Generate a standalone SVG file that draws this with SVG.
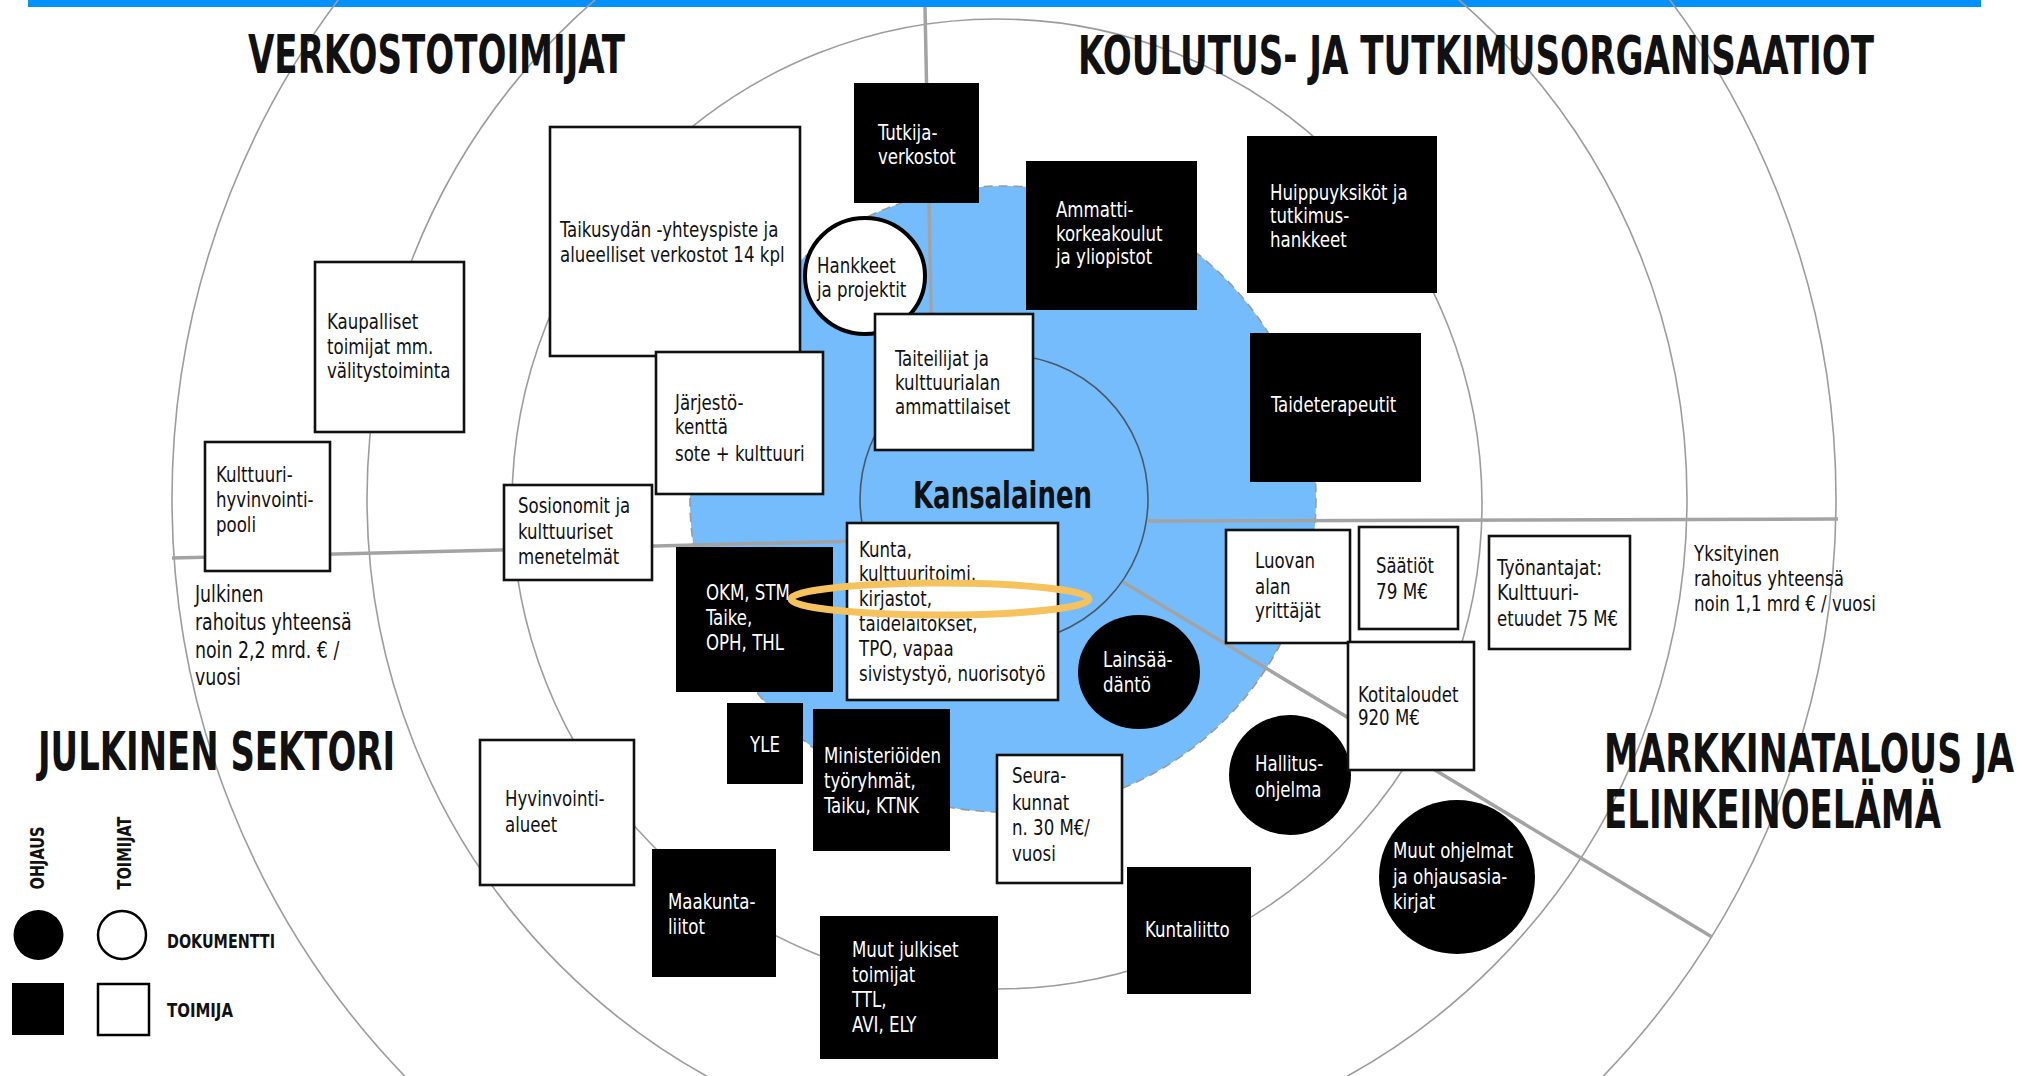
<svg xmlns="http://www.w3.org/2000/svg" width="2022" height="1076" viewBox="0 0 2022 1076">
<style>
text{font-family:"Liberation Sans Narrow","DejaVu Sans Condensed","Liberation Sans",sans-serif;font-stretch:condensed;font-size:22px;fill:#111}
.w{fill:#fff}
.ttl{font-size:53px;font-weight:bold}
.leg{font-size:20px;font-weight:bold}
.ring{fill:none;stroke:#9c9c9c;stroke-width:1.6}
.div{stroke:#a3a3a3;stroke-width:3.5;fill:none}
.wb{fill:#fff;stroke:#111;stroke-width:2.6}
.bb{fill:#000}
</style>
<rect x="28" y="0" width="1953" height="7" fill="#0091ff"/>
<g id="rings">
<circle class="ring" cx="1004" cy="499" r="832"/>
<circle class="ring" cx="1027" cy="499" r="660"/>
<circle class="ring" cx="997" cy="504" r="485"/>
<circle cx="1003" cy="499" r="313" fill="#74bcfb" stroke="#9a9a9a" stroke-width="1.6" stroke-dasharray="9 6"/>
</g>
<g id="connectors">
<path class="div" d="M925 7 L932 356"/>
<path class="div" d="M172 558 L860 541"/>
<path class="div" d="M1148 521 L1838 519"/>
<path class="div" d="M1123 582 L1712 937"/>
</g>
<circle id="kansalainen-ring" cx="1004" cy="499" r="144" fill="none" stroke="#4a5866" stroke-width="1.6"/>
<text x="913" y="508" textLength="179" lengthAdjust="spacingAndGlyphs" style="font-size:38px;font-weight:bold">Kansalainen</text>

<g id="titles">
<text class="ttl" x="248" y="73" textLength="377" lengthAdjust="spacingAndGlyphs">VERKOSTOTOIMIJAT</text>
<text class="ttl" x="1078" y="74" textLength="796" lengthAdjust="spacingAndGlyphs">KOULUTUS- JA TUTKIMUSORGANISAATIOT</text>
<text class="ttl" x="38" y="770" textLength="357" lengthAdjust="spacingAndGlyphs">JULKINEN SEKTORI</text>
<text class="ttl" x="1604" y="772" textLength="410" lengthAdjust="spacingAndGlyphs">MARKKINATALOUS JA</text>
<text class="ttl" x="1604" y="828" textLength="337" lengthAdjust="spacingAndGlyphs">ELINKEINOELÄMÄ</text>
</g>

<g id="taikusydan"><rect class="wb" x="550" y="127" width="250" height="229"/>
<g transform="matrix(0.84 0 0 1 89.6 0)"><text x="560" y="237">Taikusydän -yhteyspiste ja</text><text x="560" y="262">alueelliset verkostot 14 kpl</text></g></g>
<g id="tutkijaverkostot"><rect class="bb" x="854" y="83" width="125" height="120"/>
<g transform="matrix(0.84 0 0 1 140.48 0)"><text class="w" x="878" y="140">Tutkija-</text><text class="w" x="878" y="164">verkostot</text></g></g>
<g id="hankkeet"><ellipse cx="865" cy="276" rx="60" ry="58" fill="#fff" stroke="#000" stroke-width="4"/>
<g transform="matrix(0.84 0 0 1 130.72 0)"><text x="817" y="273">Hankkeet</text><text x="817" y="297">ja projektit</text></g></g>
<g id="ammattikorkeakoulut"><rect class="bb" x="1026" y="161" width="171" height="149"/>
<g transform="matrix(0.84 0 0 1 168.96 0)"><text class="w" x="1056" y="217">Ammatti-</text><text class="w" x="1056" y="241">korkeakoulut</text><text class="w" x="1056" y="264">ja yliopistot</text></g></g>
<g id="huippuyksikot"><rect class="bb" x="1247" y="136" width="190" height="157"/>
<g transform="matrix(0.84 0 0 1 203.2 0)"><text class="w" x="1270" y="200">Huippuyksiköt ja</text><text class="w" x="1270" y="223">tutkimus-</text><text class="w" x="1270" y="247">hankkeet</text></g></g>
<g id="taideterapeutit"><rect class="bb" x="1250" y="333" width="171" height="149"/>
<g transform="matrix(0.84 0 0 1 203.36 0)"><text class="w" x="1271" y="412">Taideterapeutit</text></g></g>
<g id="taiteilijat"><rect class="wb" x="875" y="314" width="158" height="136"/>
<g transform="matrix(0.84 0 0 1 143.2 0)"><text x="895" y="366">Taiteilijat ja</text><text x="895" y="390">kulttuurialan</text><text x="895" y="414">ammattilaiset</text></g></g>
<g id="jarjestokentta"><rect class="wb" x="656" y="352" width="167" height="142"/>
<g transform="matrix(0.84 0 0 1 108 0)"><text x="675" y="410">Järjestö-</text><text x="675" y="434">kenttä</text><text x="675" y="461">sote + kulttuuri</text></g></g>
<g id="kaupalliset"><rect class="wb" x="315" y="262" width="149" height="170"/>
<g transform="matrix(0.84 0 0 1 52.32 0)"><text x="327" y="329">Kaupalliset</text><text x="327" y="354">toimijat mm.</text><text x="327" y="378">välitystoiminta</text></g></g>
<g id="kulttuurihyvinvointipooli"><rect class="wb" x="205" y="442" width="125" height="129"/>
<g transform="matrix(0.84 0 0 1 34.56 0)"><text x="216" y="482">Kulttuuri-</text><text x="216" y="507">hyvinvointi-</text><text x="216" y="532">pooli</text></g></g>
<g id="sosionomit"><rect class="wb" x="504" y="485" width="148" height="95"/>
<g transform="matrix(0.84 0 0 1 82.88 0)"><text x="518" y="513">Sosionomit ja</text><text x="518" y="539">kulttuuriset</text><text x="518" y="564">menetelmät</text></g></g>
<g id="julkinen-rahoitus" transform="matrix(0.84 0 0 1 31.2 0)">
<text x="195" y="602" style="font-size:23px">Julkinen</text><text x="195" y="630" style="font-size:23px">rahoitus yhteensä</text><text x="195" y="658" style="font-size:23px">noin 2,2 mrd. € /</text><text x="195" y="685" style="font-size:23px">vuosi</text></g>
<g id="okm"><rect class="bb" x="676" y="547" width="157" height="145"/>
<g transform="matrix(0.84 0 0 1 112.96 0)"><text class="w" x="706" y="600">OKM, STM</text><text class="w" x="706" y="625">Taike,</text><text class="w" x="706" y="650">OPH, THL</text></g></g>
<g id="kunta"><rect class="wb" x="847" y="523" width="211" height="177"/>
<g transform="matrix(0.84 0 0 1 137.44 0)"><text x="859" y="557">Kunta,</text><text x="859" y="581">kulttuuritoimi,</text><text x="859" y="606">kirjastot,</text><text x="859" y="631">taidelaitokset,</text><text x="859" y="656">TPO, vapaa</text><text x="859" y="681">sivistystyö, nuorisotyö</text></g></g>
<g id="lainsaadanto"><ellipse cx="1139" cy="672" rx="61" ry="57" fill="#000"/>
<g transform="matrix(0.84 0 0 1 176.48 0)"><text class="w" x="1103" y="667">Lainsää-</text><text class="w" x="1103" y="692">däntö</text></g></g>
<g id="yle"><rect class="bb" x="727" y="703" width="76" height="81"/>
<g transform="matrix(0.84 0 0 1 122.4 0)"><text class="w" x="765" y="752" text-anchor="middle">YLE</text></g></g>
<g id="ministeriot"><rect class="bb" x="813" y="709" width="137" height="142"/>
<g transform="matrix(0.84 0 0 1 131.84 0)"><text class="w" x="824" y="763">Ministeriöiden</text><text class="w" x="824" y="788">työryhmät,</text><text class="w" x="824" y="813">Taiku, KTNK</text></g></g>
<g id="seurakunnat"><rect class="wb" x="997" y="755" width="125" height="128"/>
<g transform="matrix(0.84 0 0 1 161.92 0)"><text x="1012" y="783">Seura-</text><text x="1012" y="810">kunnat</text><text x="1012" y="835">n. 30 M€/</text><text x="1012" y="861">vuosi</text></g></g>
<g id="hallitusohjelma"><ellipse cx="1290" cy="775" rx="61" ry="60" fill="#000"/>
<g transform="matrix(0.84 0 0 1 200.8 0)"><text class="w" x="1255" y="771">Hallitus-</text><text class="w" x="1255" y="797">ohjelma</text></g></g>
<g id="maakuntaliitot"><rect class="bb" x="652" y="849" width="124" height="128"/>
<g transform="matrix(0.84 0 0 1 106.88 0)"><text class="w" x="668" y="909">Maakunta-</text><text class="w" x="668" y="934">liitot</text></g></g>
<g id="muutjulkiset"><rect class="bb" x="820" y="916" width="178" height="143"/>
<g transform="matrix(0.84 0 0 1 136.32 0)"><text class="w" x="852" y="957">Muut julkiset</text><text class="w" x="852" y="982">toimijat</text><text class="w" x="852" y="1007">TTL,</text><text class="w" x="852" y="1032">AVI, ELY</text></g></g>
<g id="kuntaliitto"><rect class="bb" x="1127" y="867" width="124" height="127"/>
<g transform="matrix(0.84 0 0 1 183.2 0)"><text class="w" x="1145" y="937">Kuntaliitto</text></g></g>
<g id="hyvinvointialueet"><rect class="wb" x="480" y="740" width="154" height="145"/>
<g transform="matrix(0.84 0 0 1 80.8 0)"><text x="505" y="806">Hyvinvointi-</text><text x="505" y="832">alueet</text></g></g>
<g id="luovanala"><rect class="wb" x="1226" y="530" width="124" height="113"/>
<g transform="matrix(0.84 0 0 1 200.8 0)"><text x="1255" y="568">Luovan</text><text x="1255" y="594">alan</text><text x="1255" y="618">yrittäjät</text></g></g>
<g id="saatiot"><rect class="wb" x="1359" y="527" width="99" height="102"/>
<text x="1376" y="573" textLength="58" lengthAdjust="spacingAndGlyphs">Säätiöt</text><text x="1376" y="599" textLength="52" lengthAdjust="spacingAndGlyphs">79 M€</text></g>
<g id="tyonantajat"><rect class="wb" x="1489" y="536" width="141" height="113"/>
<text x="1497" y="575" textLength="105" lengthAdjust="spacingAndGlyphs">Työnantajat:</text><text x="1497" y="600" textLength="82" lengthAdjust="spacingAndGlyphs">Kulttuuri-</text><text x="1497" y="626" textLength="121" lengthAdjust="spacingAndGlyphs">etuudet 75 M€</text></g>
<g id="kotitaloudet"><rect class="wb" x="1348" y="642" width="126" height="128"/>
<g transform="matrix(0.84 0 0 1 217.28 0)"><text x="1358" y="702">Kotitaloudet</text><text x="1358" y="725">920 M€</text></g></g>
<g id="muutohjelmat"><ellipse cx="1457" cy="877" rx="78" ry="77" fill="#000"/>
<g transform="matrix(0.84 0 0 1 222.88 0)"><text class="w" x="1393" y="858">Muut ohjelmat</text><text class="w" x="1393" y="884">ja ohjausasia-</text><text class="w" x="1393" y="909">kirjat</text></g></g>
<g id="yksityinen-rahoitus" transform="matrix(0.84 0 0 1 271.04 0)">
<text x="1694" y="561">Yksityinen</text><text x="1694" y="586">rahoitus yhteensä</text><text x="1694" y="611">noin 1,1 mrd € / vuosi</text></g>

<ellipse id="highlight" cx="940" cy="599" rx="149" ry="16" fill="none" stroke="#f6c25e" stroke-width="7"/>

<g id="legend">
<text class="leg" transform="translate(44,858) rotate(-90)" text-anchor="middle" textLength="63" lengthAdjust="spacingAndGlyphs">OHJAUS</text>
<text class="leg" transform="translate(131,853) rotate(-90)" text-anchor="middle" textLength="73" lengthAdjust="spacingAndGlyphs">TOIMIJAT</text>
<ellipse cx="38.5" cy="935" rx="25" ry="25" fill="#000"/>
<ellipse cx="122" cy="935" rx="24" ry="24" fill="#fff" stroke="#000" stroke-width="2.5"/>
<text class="leg" x="167" y="948" textLength="108" lengthAdjust="spacingAndGlyphs">DOKUMENTTI</text>
<rect x="12" y="983" width="52" height="52" fill="#000"/>
<rect x="98" y="984" width="51" height="51" fill="#fff" stroke="#000" stroke-width="2.5"/>
<text class="leg" x="167" y="1017" textLength="66" lengthAdjust="spacingAndGlyphs">TOIMIJA</text>
</g>
</svg>
